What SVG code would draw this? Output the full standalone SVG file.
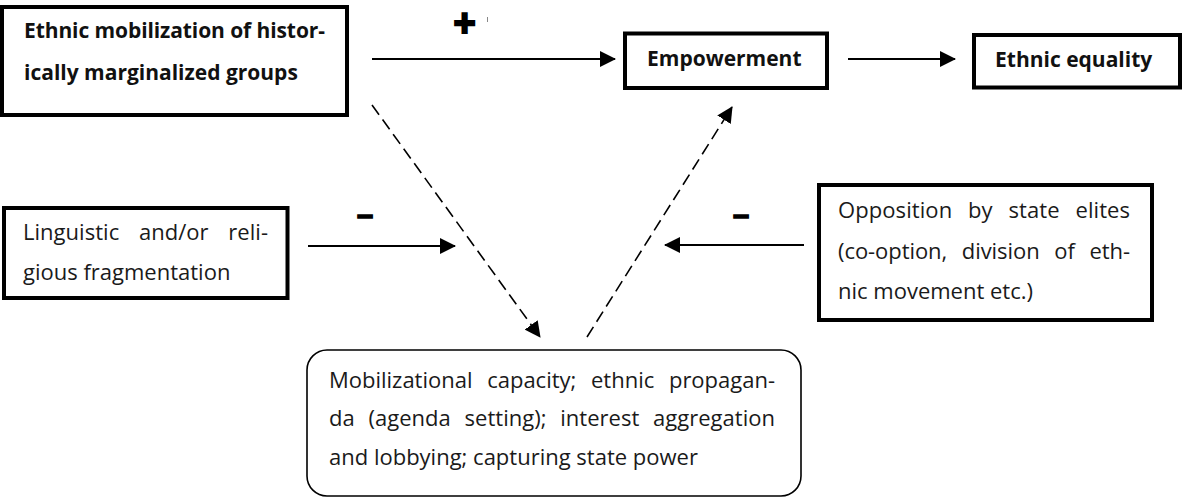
<svg xmlns="http://www.w3.org/2000/svg" width="1182" height="499" viewBox="0 0 1182 499">
<style>
.box{fill:#fff;stroke:#000;stroke-width:4}
.rbox{fill:#fff;stroke:#000;stroke-width:1.6}
.t{font-family:"Open Sans","Liberation Sans",sans-serif;font-size:22px;fill:#1a1a1a}
.b{font-family:"Open Sans","Liberation Sans",sans-serif;font-size:21px;font-weight:bold;fill:#111}
.sign{font-family:"Liberation Sans",sans-serif;font-weight:bold;fill:#000}
.solid{stroke:#000;stroke-width:2;fill:none}
.dash{stroke:#000;stroke-width:1.6;fill:none;stroke-dasharray:12,6}
</style>
<defs>
<marker id="ah" markerWidth="16" markerHeight="16" refX="15" refY="8" orient="auto" markerUnits="userSpaceOnUse" viewBox="0 0 16 16">
<path d="M0,0 L16,8 L0,16 Z" fill="#000"/>
</marker>
</defs>

<g id="connectors">
<line class="solid" x1="372" y1="59" x2="615" y2="59" marker-end="url(#ah)"/>
<line class="solid" x1="848" y1="59" x2="955" y2="59" marker-end="url(#ah)"/>
<line class="solid" x1="308" y1="246" x2="455" y2="246" marker-end="url(#ah)"/>
<line class="solid" x1="804" y1="245" x2="665" y2="245" marker-end="url(#ah)"/>
<line class="dash" x1="372" y1="105" x2="540" y2="337" marker-end="url(#ah)"/>
<line class="dash" x1="587" y1="337" x2="732" y2="107" marker-end="url(#ah)"/>
<text class="sign" x="453.5" y="35.5" font-family="DejaVu Sans" font-size="38" stroke="#000" stroke-width="2">+</text>
<line x1="487.5" y1="17" x2="487.5" y2="22" stroke="#888" stroke-width="1"/>
<text class="sign" x="357" y="225" font-size="29" stroke="#000" stroke-width="1.5">–</text>
<text class="sign" x="733" y="225" font-size="29" stroke="#000" stroke-width="1.5">–</text>
</g>

<g id="node-mobilization">
<rect class="box" x="2" y="7" width="345" height="108"/>
<text class="b" x="24" y="38" textLength="301" lengthAdjust="spacing">Ethnic mobilization of histor-</text>
<text class="b" x="24" y="80">ically marginalized groups</text>
</g>

<g id="node-empowerment">
<rect class="box" x="625" y="33.5" width="202" height="54.5"/>
<text class="b" x="647" y="66">Empowerment</text>
</g>

<g id="node-equality">
<rect class="box" x="974" y="35" width="206" height="52.5"/>
<text class="b" x="995" y="67">Ethnic equality</text>
</g>

<g id="node-fragmentation">
<rect class="box" x="4" y="208" width="283.5" height="90"/>
<text class="t" x="23" y="240" word-spacing="14" textLength="245" lengthAdjust="spacing">Linguistic and/or reli-</text>
<text class="t" x="23" y="280">gious fragmentation</text>
</g>

<g id="node-opposition">
<rect class="box" x="819" y="185" width="333" height="135"/>
<text class="t" x="838" y="218" word-spacing="10" textLength="292" lengthAdjust="spacing">Opposition by state elites</text>
<text class="t" x="838" y="259" word-spacing="9" textLength="292" lengthAdjust="spacing">(co-option, division of eth-</text>
<text class="t" x="838" y="299">nic movement etc.)</text>
</g>

<g id="node-capacity">
<rect class="rbox" x="307" y="350" width="494" height="146" rx="20"/>
<text class="t" x="329" y="388" word-spacing="9" textLength="446" lengthAdjust="spacing">Mobilizational capacity; ethnic propagan-</text>
<text class="t" x="329" y="426" word-spacing="8" textLength="446" lengthAdjust="spacing">da (agenda setting); interest aggregation</text>
<text class="t" x="329" y="465">and lobbying; capturing state power</text>
</g>
</svg>
